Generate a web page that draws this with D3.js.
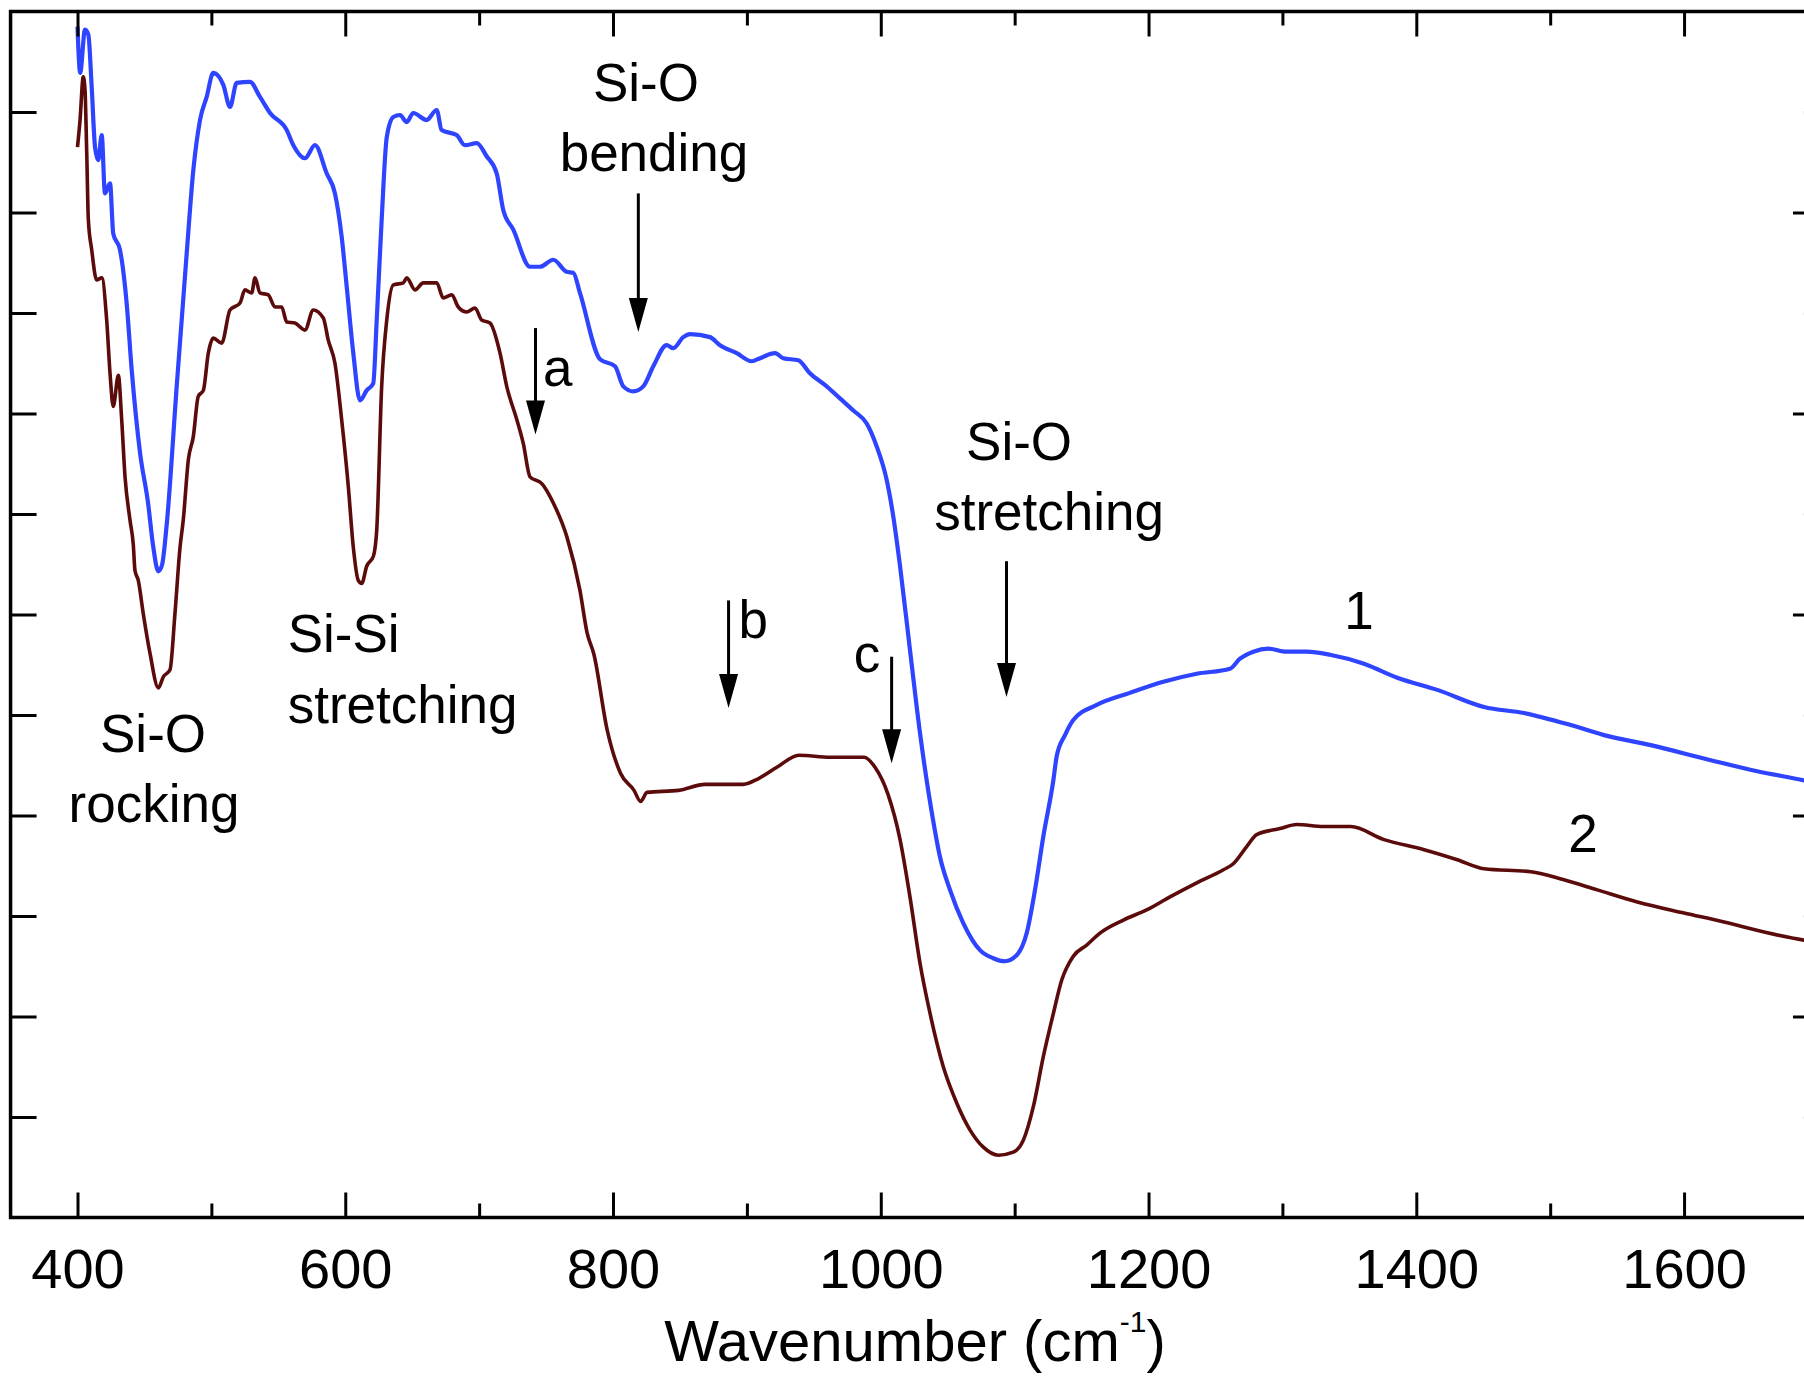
<!DOCTYPE html>
<html><head><meta charset="utf-8">
<script src="https://cdn.jsdelivr.net/npm/d3@7"></script>
<style>
html,body{margin:0;padding:0;background:#fff;}
svg{display:block;}
text{font-family:"Liberation Sans",Arial,Helvetica,sans-serif;fill:#000;}
</style>
</head><body>
<svg id="chart" width="1804" height="1376"></svg>
<script>
// ---- data ----
const xDomain = [350, 1700];
const yDomain = [0, 12];
const xMajorTicks = [400, 600, 800, 1000, 1200, 1400, 1600];
const xMinorTicks = [500, 700, 900, 1100, 1300, 1500];
const yLeftTicks = [1, 2, 3, 4, 5, 6, 7, 8, 9, 10, 11];
const yRightMajor = [2, 4, 6, 8, 10];
const yRightMinor = [1, 3, 5, 7, 9, 11];
const xTitle = "Wavenumber (cm";
const xTitleSup = "-1";

// spectrum 1 (blue): [wavenumber, intensity a.u.]
const spectrum1 = [[400,11.85],[402,11.39],[405.6,11.82],[408.1,11.77],[410.6,11.25],[413.1,10.65],[415.5,10.52],[418.1,10.77],[420.5,10.19],[424.3,10.29],[426.7,9.79],[431.7,9.63],[436.7,9.10],[440.5,8.43],[446.7,7.61],[452.7,7.11],[456.4,6.69],[460.4,6.43],[463.1,6.49],[466.6,6.89],[474.1,8.27],[481.6,9.60],[486.5,10.42],[491.5,10.92],[496.5,11.15],[501.4,11.39],[508.9,11.27],[513.9,11.05],[518.9,11.29],[528.8,11.30],[536.3,11.15],[543.8,10.99],[556.3,10.82],[561.2,10.67],[569.9,10.54],[577.4,10.67],[586.1,10.39],[592.3,10.19],[597.3,9.76],[601.1,9.26],[606,8.60],[611,8.13],[616,8.23],[620.9,8.30],[623.5,8.93],[627.2,9.93],[631,10.75],[635.9,10.95],[640.9,10.97],[645.9,10.90],[650.8,10.99],[660.8,10.92],[668.3,11.02],[672,10.82],[683.2,10.77],[689.4,10.67],[698.2,10.69],[705.6,10.56],[713.1,10.39],[718.1,10.02],[725.5,9.83],[738,9.46],[745.5,9.46],[755.4,9.53],[765.4,9.41],[770.3,9.40],[775.3,9.20],[790.3,8.54],[801.5,8.47],[807.7,8.27],[815.2,8.22],[822.6,8.27],[830.1,8.47],[840.1,8.68],[845,8.65],[852.5,8.76],[857.5,8.79],[872.4,8.76],[879.9,8.68],[892.4,8.60],[903.6,8.52],[909.8,8.55],[921,8.60],[927.2,8.55],[938.4,8.53],[947.1,8.40],[959.6,8.27],[969.5,8.15],[979.5,8.03],[989.5,7.90],[997,7.67],[1004.4,7.34],[1009.4,6.97],[1014.4,6.48],[1021.8,5.65],[1029.3,4.82],[1039,3.96],[1044.2,3.59],[1051.7,3.26],[1061.6,2.93],[1074.1,2.66],[1084,2.58],[1092.8,2.55],[1101.5,2.61],[1109,2.83],[1115.2,3.26],[1121.4,3.79],[1128.9,4.35],[1131.4,4.59],[1137.6,4.80],[1143.8,4.95],[1161.3,5.10],[1186.1,5.22],[1211,5.33],[1236,5.41],[1260.8,5.46],[1268.3,5.56],[1278.3,5.63],[1289.5,5.66],[1303.2,5.63],[1318.1,5.63],[1335.5,5.60],[1360.9,5.51],[1385.8,5.37],[1415.7,5.25],[1450.6,5.08],[1480.4,5.02],[1515.3,4.90],[1540.2,4.80],[1575.1,4.70],[1619.9,4.55],[1654.7,4.44],[1689.6,4.35],[1700,4.32]];

// spectrum 2 (dark red)
const spectrum2 = [[400,10.65],[401.9,10.92],[404.3,11.35],[405.6,11.22],[406.9,10.59],[408.1,9.93],[410.6,9.63],[414.3,9.33],[418.1,9.35],[421.8,8.93],[424.3,8.40],[426.7,8.07],[430.5,8.38],[433,7.94],[435.5,7.37],[439.2,6.94],[441.7,6.69],[442.9,6.44],[445.4,6.34],[449.1,6.01],[454.2,5.61],[460.4,5.27],[464.1,5.38],[469.1,5.45],[472.8,6.01],[476.6,6.67],[479,6.94],[482.8,7.54],[486.5,7.77],[490.2,8.17],[494,8.23],[497.7,8.60],[501.4,8.75],[507.7,8.70],[513.9,9.03],[521.4,9.10],[525.1,9.23],[530.1,9.20],[532.6,9.35],[536.3,9.20],[542.5,9.18],[547.5,9.06],[552.5,9.06],[556.3,8.91],[562.4,8.90],[569.9,8.83],[576.1,9.03],[583.6,8.95],[587.3,8.73],[592.3,8.50],[597.3,7.94],[602.3,7.27],[606,6.67],[609.7,6.34],[612.3,6.31],[616,6.48],[621,6.58],[623.5,6.84],[627.2,8.27],[631,8.93],[635.9,9.28],[643.4,9.30],[645.9,9.35],[652.1,9.23],[658.3,9.30],[668.3,9.30],[673.2,9.15],[679.5,9.18],[684.4,9.06],[690.7,9.01],[696.9,9.05],[701.9,8.93],[708.1,8.90],[715.6,8.60],[720.6,8.27],[728.1,7.94],[733,7.70],[738,7.37],[747,7.30],[755.4,7.11],[765.6,6.77],[775.3,6.24],[780.6,5.82],[785.8,5.60],[795.5,4.86],[805.6,4.42],[815.7,4.25],[820.6,4.14],[825.4,4.23],[849,4.25],[868.7,4.31],[897.1,4.31],[909,4.37],[922.4,4.48],[938.9,4.60],[962.1,4.58],[987.5,4.58],[995.7,4.48],[1005.4,4.21],[1014.4,3.76],[1021.8,3.19],[1029.3,2.53],[1036.8,2.03],[1046.7,1.50],[1056.7,1.14],[1066.7,0.87],[1076.6,0.70],[1087.8,0.62],[1099,0.65],[1106.5,0.77],[1113.9,1.10],[1121.4,1.60],[1128.9,2.03],[1135.1,2.36],[1143.8,2.60],[1153.8,2.71],[1163.7,2.83],[1181.2,2.96],[1198.6,3.06],[1216,3.19],[1236,3.33],[1255.9,3.46],[1263.3,3.52],[1273.3,3.69],[1280.8,3.81],[1298.2,3.87],[1310.7,3.91],[1330.6,3.89],[1351,3.89],[1375.9,3.76],[1405.8,3.66],[1430.6,3.56],[1450.6,3.47],[1485.5,3.44],[1510.3,3.36],[1535.2,3.26],[1565.1,3.14],[1600,3.03],[1629.9,2.94],[1659.8,2.84],[1689.6,2.76],[1700,2.74]];

// annotation texts: [text, wavenumber, intensity(baseline), anchor]
const annotationTexts = [
  ["Si-O", 824.6, 11.11, "middle"],
  ["bending", 830.6, 10.41, "middle"],
  ["a", 747.7, 8.27, "start"],
  ["b", 893.7, 5.77, "start"],
  ["c", 989.7, 5.43, "middle"],
  ["Si-O", 1103.3, 7.54, "middle"],
  ["stretching", 1125.7, 6.84, "middle"],
  ["1", 1357.2, 5.86, "middle"],
  ["2", 1524.5, 3.64, "middle"],
  ["Si-O", 456.4, 4.63, "middle"],
  ["rocking", 457.1, 3.94, "middle"],
  ["Si-Si", 557, 5.63, "start"],
  ["stretching", 557, 4.92, "start"]
];
// arrows: [wavenumber, intensity start, intensity tip]
const arrows = [
  [818.9, 10.19, 8.81],
  [742.1, 8.85, 7.79],
  [886.3, 6.14, 5.07],
  [1008.1, 5.58, 4.52],
  [1093.9, 6.53, 5.18]
];

// ---- drawing ----
const svg = d3.select("#chart");
const x = d3.scaleLinear().domain(xDomain).range([10.56, 1817.94]);
const y = d3.scaleLinear().domain(yDomain).range([1217.5, 11.5]);
const AX = 3.5, TK = 3;

// curves
const line = d3.line().x(d => x(d[0])).y(d => y(d[1])).curve(d3.curveMonotoneX);
svg.append("path").datum(spectrum2).attr("d", line)
  .attr("fill", "none").attr("stroke", "#5c0b0b").attr("stroke-width", 3.6)
  .attr("stroke-linejoin", "round");
svg.append("path").datum(spectrum1).attr("d", line)
  .attr("fill", "none").attr("stroke", "#2e44ff").attr("stroke-width", 4.2)
  .attr("stroke-linejoin", "round");

function styleAxis(g) {
  g.select(".domain").remove();
  g.selectAll(".tick line").attr("stroke", "#000").attr("stroke-width", TK);
}
// bottom axis
svg.append("g").attr("transform", `translate(0,${y(0)})`)
  .call(d3.axisBottom(x).tickValues(xMajorTicks).tickSize(-25).tickPadding(31)
    .tickFormat(d3.format("d")))
  .call(styleAxis)
  .call(g => g.selectAll("text").attr("font-size", 56).attr("font-family", '"Liberation Sans",Arial,sans-serif').attr("fill", "#000"));
svg.append("g").attr("transform", `translate(0,${y(0)})`)
  .call(d3.axisBottom(x).tickValues(xMinorTicks).tickSize(-14).tickFormat(""))
  .call(styleAxis);
// top axis
svg.append("g").attr("transform", `translate(0,${y(12)})`)
  .call(d3.axisTop(x).tickValues(xMajorTicks).tickSize(-25).tickFormat(""))
  .call(styleAxis);
svg.append("g").attr("transform", `translate(0,${y(12)})`)
  .call(d3.axisTop(x).tickValues(xMinorTicks).tickSize(-14).tickFormat(""))
  .call(styleAxis);
// left axis
svg.append("g").attr("transform", `translate(${x(350)},0)`)
  .call(d3.axisLeft(y).tickValues(yLeftTicks).tickSize(-26).tickFormat(""))
  .call(styleAxis);
// right axis
svg.append("g").attr("transform", `translate(${x(1700)},0)`)
  .call(d3.axisRight(y).tickValues(yRightMajor).tickSize(-25).tickFormat(""))
  .call(styleAxis);
svg.append("g").attr("transform", `translate(${x(1700)},0)`)
  .call(d3.axisRight(y).tickValues(yRightMinor).tickSize(-14).tickFormat(""))
  .call(styleAxis);

// frame
svg.append("rect")
  .attr("x", x(350)).attr("y", y(12))
  .attr("width", x(1700) - x(350)).attr("height", y(0) - y(12))
  .attr("fill", "none").attr("stroke", "#000").attr("stroke-width", AX);

// x title
const t = svg.append("text").attr("x", 915).attr("y", 1361)
  .attr("text-anchor", "middle").attr("font-size", 58);
t.append("tspan").text(xTitle);
t.append("tspan").attr("font-size", 30).attr("dy", -29).text(xTitleSup);
t.append("tspan").attr("dy", 29).text(")");

// annotations
svg.append("g").selectAll("text").data(annotationTexts).join("text")
  .attr("x", d => x(d[1])).attr("y", d => y(d[2]))
  .attr("text-anchor", d => d[3]).attr("font-size", 53)
  .text(d => d[0]);

const ag = svg.append("g");
arrows.forEach(a => {
  const ax = x(a[0]), y0 = y(a[1]), y1 = y(a[2]);
  const head = 34, hw = 9.5;
  ag.append("line").attr("x1", ax).attr("x2", ax).attr("y1", y0).attr("y2", y1 - head + 2)
    .attr("stroke", "#000").attr("stroke-width", 3);
  ag.append("path")
    .attr("d", `M${ax - hw},${y1 - head} L${ax + hw},${y1 - head} L${ax},${y1} Z`)
    .attr("fill", "#000");
});
</script>
</body></html>
